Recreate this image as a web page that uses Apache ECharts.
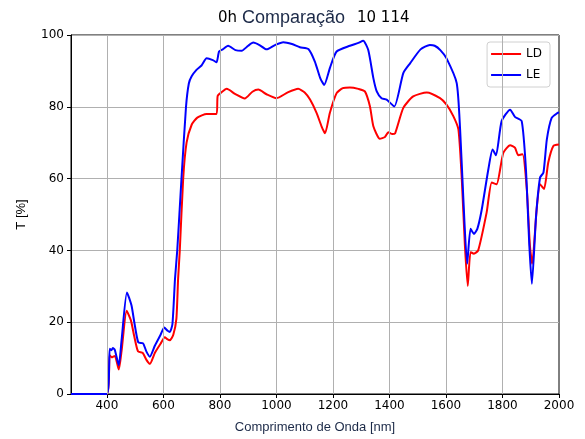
<!DOCTYPE html>
<html>
<head>
<meta charset="utf-8">
<script src="https://cdn.jsdelivr.net/npm/echarts@6/dist/echarts.min.js"></script>
<style>
    html, body { margin: 0; padding: 0; background: #fff; }
    #chart { width: 585px; height: 439px; }
</style>
</head>
<body>
<div id="chart"></div>
<script>
// comprimento de onda [nm] e transmitância [%] - LD
const ldNm = [273, 400, 410, 418, 428, 442, 452, 470, 485, 497, 510, 527, 540, 552, 570, 590, 605, 615, 623, 635, 646, 652, 658, 670, 682, 700, 720, 753, 788, 792, 805, 824, 855, 888, 915, 936, 965, 1000, 1040, 1077, 1100, 1119, 1142, 1160, 1172, 1189, 1213, 1235, 1260, 1290, 1313, 1331, 1343, 1366, 1384, 1396, 1410, 1420, 1449, 1484, 1532, 1579, 1602, 1626, 1644, 1656, 1667, 1677, 1687, 1699, 1714, 1744, 1762, 1779, 1803, 1827, 1844, 1856, 1871, 1886, 1897, 1905, 1921, 1933, 1947, 1962, 1980, 2000]
const ldT = [0, 0, 10.8, 10.2, 10.6, 6.8, 12, 23.2, 20.5, 16, 11.9, 11.4, 9.5, 8.4, 11.5, 14, 15.8, 15.2, 15.0, 16.5, 21, 32, 40, 60, 70, 75, 77, 78, 78, 83, 84, 85.0, 83.5, 82.3, 84.2, 84.8, 83.5, 82.4, 84, 85.0, 84, 82.0, 78.3, 74.5, 72.6, 78.3, 83.8, 85.2, 85.4, 85.0, 84.3, 80.1, 74.6, 71.1, 71.6, 72.9, 72.4, 72.6, 79.7, 82.9, 84.0, 82.4, 80.6, 77.4, 73.7, 59.8, 41.4, 30.1, 39.5, 39.1, 40.0, 50.6, 58.9, 58.4, 67.2, 69.3, 68.6, 66.5, 66.8, 57.1, 41.4, 36.3, 51.5, 58.4, 57.1, 64.5, 69.1, 69.5]

// LE
const leNm = [273, 400, 410, 416, 421, 428, 442, 452, 471, 487, 497, 511, 528, 540, 552, 570, 590, 603, 615, 623, 632, 641, 649, 664, 680, 690, 700, 717, 735, 753, 775, 788, 797, 810, 829, 855, 877, 900, 918, 940, 965, 995, 1024, 1055, 1083, 1113, 1136, 1155, 1169, 1190, 1213, 1260, 1290, 1307, 1325, 1343, 1355, 1372, 1390, 1417, 1449, 1473, 1510, 1543, 1560, 1580, 1602, 1638, 1650, 1661, 1675, 1687, 1699, 1711, 1726, 1750, 1765, 1777, 1797, 1827, 1844, 1868, 1883, 1895, 1904, 1919, 1933, 1945, 1957, 1974, 1995, 2000]
const leT = [0, 0, 12.6, 12.2, 12.8, 12.3, 8.0, 15, 28.3, 24.7, 20, 14.4, 14.1, 11.8, 10.4, 13.5, 16.5, 18.5, 17.6, 17.3, 19.5, 32, 40, 60, 80, 86.5, 88.5, 90.3, 91.5, 93.5, 93, 92.4, 95.4, 96, 97.0, 95.8, 95.6, 97, 97.9, 97.2, 96.0, 97.2, 98.0, 97.5, 96.6, 96.1, 92.6, 88, 86.1, 91, 95.4, 97.0, 97.8, 98.4, 95.8, 88.0, 84.3, 82.4, 82.0, 80.1, 89.4, 92.1, 96, 97.2, 97, 95.8, 93.5, 86.6, 73.7, 55.2, 36.3, 46.0, 44.6, 46.0, 51.1, 62.6, 68.1, 66.5, 76.0, 79.2, 77.2, 76.0, 62.6, 41.4, 30.7, 49.7, 60.3, 61.7, 70.9, 76.9, 78.3, 78.4]

// marcas do eixo x
const xTicks = [400, 600, 800, 1000, 1200, 1400, 1600, 1800, 2000]

function zip(xs, ys) {
    return xs.map((x, i) => [x, ys[i]])
}

const chart = echarts.init(document.getElementById('chart'))

const option = {
    backgroundColor: '#fff',
    animation: false,
    title: [
        { text: '0h', left: 218, top: 11, padding: 0, textStyle: { fontFamily: 'DejaVu Sans', fontSize: 15, fontWeight: 'normal', color: '#000' } },
        { text: 'Comparação', left: 242, top: 9, padding: 0, textStyle: { fontFamily: 'Liberation Sans', fontSize: 18, fontWeight: 'normal', color: '#1c2a48' } },
        { text: '10 114', left: 357, top: 11, padding: 0, textStyle: { fontFamily: 'DejaVu Sans', fontSize: 15, fontWeight: 'normal', color: '#000' } },
    ],
    grid: {
        left: 71,
        right: 26,
        top: 35,
        bottom: 43,
        show: true,
        borderColor: '#000',
        borderWidth: 1,
        containLabel: false,
    },
    legend: {
        orient: 'vertical',
        right: 35,
        top: 42,
        itemWidth: 30,
        itemHeight: 2,
        itemGap: 9,
        padding: [6, 8, 6, 4],
        borderColor: '#d0d0d0',
        borderWidth: 1,
        borderRadius: 3,
        backgroundColor: 'rgba(255,255,255,0.8)',
        textStyle: { fontFamily: 'DejaVu Sans', fontSize: 12, color: '#000' },
        icon: 'rect',
        data: ['LD', 'LE'],
    },
    xAxis: {
        type: 'value',
        min: 273,
        max: 2000,
        splitNumber: 8,
        name: 'Comprimento de Onda [nm]',
        nameLocation: 'middle',
        nameGap: 27,
        nameTextStyle: { fontFamily: 'Liberation Sans', fontSize: 13, color: '#1c2a48' },
        axisLine: { lineStyle: { color: '#000', width: 1 } },
        axisTick: { show: true, length: 4, lineStyle: { color: '#000' }, customValues: xTicks },
        axisLabel: {
            fontFamily: 'DejaVu Sans', fontSize: 12, color: '#000', margin: 6,
            customValues: xTicks,
            formatter: (v) => String(v),
        },
        // grade vertical desenhada com markLine (min não é múltiplo de 200)
        splitLine: { show: false },
    },
    yAxis: {
        type: 'value',
        min: 0,
        max: 100,
        interval: 20,
        name: 'T [%]',
        nameLocation: 'middle',
        nameGap: 43,
        nameTextStyle: { fontFamily: 'Liberation Sans', fontSize: 13, color: '#000' },
        axisLine: { show: true, lineStyle: { color: '#000', width: 1 } },
        axisTick: { show: true, length: 4, lineStyle: { color: '#000' } },
        axisLabel: { fontFamily: 'DejaVu Sans', fontSize: 12, color: '#000', margin: 7 },
        splitLine: { show: true, lineStyle: { color: '#b0b0b0', width: 1 } },
    },
    series: [
        {
            name: 'grade',
            type: 'line',
            data: [],
            z: 1,
            silent: true,
            markLine: {
                silent: true,
                symbol: 'none',
                label: { show: false },
                lineStyle: { color: '#b0b0b0', width: 1, type: 'solid' },
                data: xTicks.slice(0, -1).map((v) => ({ xAxis: v })),
            },
        },
        {
            name: 'LD',
            type: 'line',
            data: zip(ldNm, ldT),
            showSymbol: false,
            smooth: 0.2,
            z: 3,
            color: '#ff0000',
            lineStyle: { width: 2, color: '#ff0000' },
        },
        {
            name: 'LE',
            type: 'line',
            data: zip(leNm, leT),
            showSymbol: false,
            smooth: 0.2,
            z: 3,
            color: '#0000ff',
            lineStyle: { width: 2, color: '#0000ff' },
        },
    ],
}

chart.setOption(option)
</script>
</body>
</html>
